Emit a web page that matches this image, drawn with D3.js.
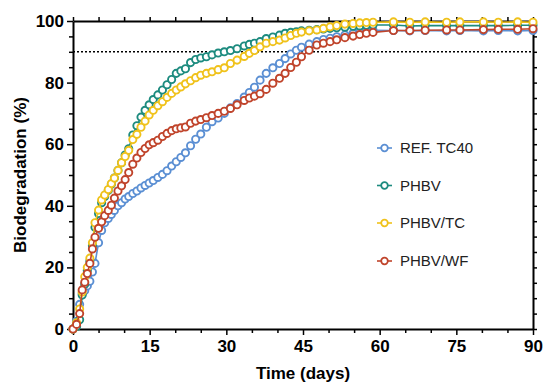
<!DOCTYPE html>
<html>
<head>
<meta charset="utf-8">
<script src="https://cdn.jsdelivr.net/npm/d3@7"></script>
<style>
  html, body { margin: 0; padding: 0; background: #ffffff; }
  svg { display: block; font-family: "Liberation Sans", Arial, sans-serif; }
</style>
</head>
<body>
<svg id="chart" width="550" height="390"></svg>
<script>
// ---- data ----
const days = [0, 0.7, 1.3, 1.8, 2.3, 2.8, 3.3, 3.8, 4.3, 5.0, 5.6, 6.2, 6.9, 7.5, 8.1, 8.8, 9.5, 10.2,
  10.9, 11.7, 12.5, 13.3, 14.1, 14.9, 15.7, 16.6, 17.5, 18.4, 19.3, 20.2, 21.1, 22.0, 23.0, 24.0, 25.0, 26.1, 27.2,
  28.4, 29.6, 30.8, 32.1, 33.5, 34.5, 35.5, 36.6, 37.8, 39.1, 40.4, 41.5, 42.6, 43.7, 44.7,
  46.2, 47.7, 49.0, 50.3, 51.6, 53.2, 54.8, 56.1, 57.4, 58.7,
  62.7, 65.9, 68.9, 73.1, 75.7, 80.3, 83.2, 87.0, 90.0];

const refTC40 = [0, 2.5, 8, 11.5, 12.5, 14, 15.5, 18.5, 21.3, 28, 32, 34.5, 35.9, 37.2, 38.5, 40, 41, 42.2,
  43, 44, 44.8, 45.8, 46.6, 47.4, 48.2, 49.2, 50.2, 51.4, 52.9, 54.3, 55.7, 57.2, 59.5, 61.6, 63.3, 65.5, 67.3,
  68.5, 70, 71.8, 73.2, 75.3, 76.8, 78.5, 80.8, 83, 84.8, 86.2, 87.8, 89.3, 90.5, 91.5,
  92.5, 93.3, 94, 94.4, 94.9, 95.5, 96, 96.4, 96.8, 97,
  96.9, 96.8, 96.9, 96.8, 96.9, 96.8, 96.9, 96.8, 96.9];

const phbv = [0, 0.8, 3, 11, 14.5, 19, 22, 27, 33, 37.5, 41, 43, 45, 47, 49, 51.5, 54, 56.5,
  58.5, 63, 66, 68.8, 71, 72.8, 74.5, 76, 77.6, 79.3, 81, 83, 83.8, 84.5, 86.5, 87.5, 88, 88.4, 89,
  89.6, 90, 90.4, 91, 91.9, 92.4, 92.8, 93.3, 94.3, 94.8, 95.4, 96, 96.3, 96.5, 96.8,
  97, 97.2, 97.4, 97.6, 97.8, 98, 98.3, 98.4, 98.6, 98.7,
  98.7, 98.4, 98.5, 98.5, 98.5, 98.5, 98.5, 98.6, 98.6];

const phbvTC = [0, 2, 6.5, 12, 17, 20, 23, 28, 34.5, 38.6, 41.9, 43.5, 45.3, 47.2, 49, 51.5, 54, 56,
  58, 61.5, 63.2, 65.5, 67.5, 69.5, 71, 72.5, 73.8, 75.2, 76.5, 77.6, 78.6, 79.6, 80.6, 81.6, 82.4, 83, 83.5,
  84.2, 84.8, 86.2, 87.3, 88.5, 89.5, 90.4, 91.6, 92.8, 93.3, 93.8, 94.5, 95.3, 96, 96.4,
  96.8, 97.1, 97.6, 98.1, 98.5, 99, 99.2, 99.4, 99.5, 99.6,
  99.7, 99.6, 99.7, 99.6, 99.7, 99.7, 99.6, 99.7, 99.6];

const phbvWF = [0, 1.5, 5, 12.7, 15.2, 18, 21.3, 26, 29.8, 32.7, 34.8, 36.8, 38.5, 40.2, 42.5, 44.8, 46.5, 48.5,
  50.8, 53.5, 55.5, 57.3, 58.6, 59.8, 60.5, 61.3, 62.5, 63.5, 64.4, 65, 65.3, 65.6, 66.8, 67.5, 68, 68.6, 69.3,
  70, 70.7, 71.6, 72.8, 74.2, 75, 75.6, 76.4, 77.8, 79.8, 81.4, 83, 84.9, 86.6, 88.4,
  90.5, 92.2, 92.8, 93.3, 93.9, 94.6, 95.1, 95.6, 96, 96.3,
  96.9, 96.9, 97, 97.1, 97.1, 97.2, 97.3, 97.3, 97.5];

const seriesNames = ["REF. TC40", "PHBV", "PHBV/TC", "PHBV/WF"];
const seriesColors = ["#5b8fd3", "#1d8b7f", "#f0c21b", "#c0442b"];
const xTicks = [0, 15, 30, 45, 60, 75, 90];
const yTicks = [0, 20, 40, 60, 80, 100];
const thresholdValue = 90;

const seriesValues = [refTC40, phbv, phbvTC, phbvWF];

// ---- layout ----
const svg = d3.select("#chart");
const x = d3.scaleLinear().domain([0, 90]).range([73, 533]);
const y = d3.scaleLinear().domain([0, 100]).range([329, 21]);

const tickFont = "bold 17px 'Liberation Sans', Arial, sans-serif";

// threshold dotted line
svg.append("line")
  .attr("x1", x(0)).attr("x2", x(90))
  .attr("y1", y(thresholdValue)).attr("y2", y(thresholdValue))
  .attr("stroke", "#000").attr("stroke-width", 1.6)
  .attr("stroke-dasharray", "2,2");

// minor tick arrays
const xMinor = d3.range(0, 91, 5).filter(v => v % 15 !== 0);
const yMinor = d3.range(0, 101, 5).filter(v => v % 20 !== 0);

function styleAxis(g) {
  g.select(".domain").attr("stroke", "#000").attr("stroke-width", 2);
  g.selectAll(".tick line").attr("stroke", "#000").attr("stroke-width", 1.5);
}

// bottom axis
const gx = svg.append("g").attr("transform", `translate(0,${y(0)})`)
  .call(d3.axisBottom(x).tickValues(xTicks).tickSize(6).tickSizeOuter(0).tickPadding(5));
styleAxis(gx);
gx.selectAll("text").style("font", tickFont).attr("fill", "#000");
svg.append("g").attr("transform", `translate(0,${y(0)})`)
  .call(d3.axisBottom(x).tickValues(xMinor).tickSize(4).tickFormat(""))
  .call(g => { g.select(".domain").remove(); g.selectAll("line").attr("stroke", "#000").attr("stroke-width", 1.5); });

// left axis
const gy = svg.append("g").attr("transform", `translate(${x(0)},0)`)
  .call(d3.axisLeft(y).tickValues(yTicks).tickSize(6).tickSizeOuter(0).tickPadding(3));
styleAxis(gy);
gy.selectAll("text").style("font", tickFont).attr("fill", "#000");
svg.append("g").attr("transform", `translate(${x(0)},0)`)
  .call(d3.axisLeft(y).tickValues(yMinor).tickSize(4).tickFormat(""))
  .call(g => { g.select(".domain").remove(); g.selectAll("line").attr("stroke", "#000").attr("stroke-width", 1.5); });

// top axis
const gt = svg.append("g").attr("transform", `translate(0,${y(100)})`)
  .call(d3.axisTop(x).tickValues(d3.range(0, 91, 5)).tickSize(4).tickSizeOuter(0).tickFormat(""));
styleAxis(gt);

// right axis
const gr = svg.append("g").attr("transform", `translate(${x(90)},0)`)
  .call(d3.axisRight(y).tickValues(d3.range(0, 101, 5)).tickSize(4).tickSizeOuter(0).tickFormat(""));
styleAxis(gr);

// axis titles
svg.append("text")
  .attr("x", (x(0) + x(90)) / 2).attr("y", 379)
  .attr("text-anchor", "middle")
  .style("font", "bold 17px 'Liberation Sans', Arial, sans-serif")
  .text("Time (days)");
svg.append("text")
  .attr("transform", `translate(26,${(y(0) + y(100)) / 2}) rotate(-90)`)
  .attr("text-anchor", "middle")
  .style("font", "bold 17px 'Liberation Sans', Arial, sans-serif")
  .text("Biodegradation (%)");

// series
const line = d3.line().x(d => x(d[0])).y(d => y(d[1]));
seriesValues.forEach((vals, i) => {
  const pts = days.map((d, j) => [d, vals[j]]);
  const g = svg.append("g");
  g.append("path").datum(pts)
    .attr("d", line).attr("fill", "none")
    .attr("stroke", seriesColors[i]).attr("stroke-width", 1.6);
  g.selectAll("circle").data(pts).join("circle")
    .attr("cx", d => x(d[0])).attr("cy", d => y(d[1])).attr("r", 3.6)
    .attr("fill", "#fff").attr("stroke", seriesColors[i]).attr("stroke-width", 1.9);
});

// legend
const legendY = [148, 185.5, 223, 261];
seriesNames.forEach((name, i) => {
  const g = svg.append("g").attr("transform", `translate(0,${legendY[i]})`);
  g.append("line").attr("x1", 377).attr("x2", 392).attr("y1", 0).attr("y2", 0)
    .attr("stroke", seriesColors[i]).attr("stroke-width", 1.6);
  g.append("circle").attr("cx", 384.5).attr("cy", 0).attr("r", 3.3)
    .attr("fill", "#fff").attr("stroke", seriesColors[i]).attr("stroke-width", 1.8);
  g.append("text").attr("x", 400).attr("y", 0).attr("dy", "0.36em")
    .style("font", "15px 'Liberation Sans', Arial, sans-serif")
    .attr("fill", "#222").text(name);
});
</script>
</body>
</html>
